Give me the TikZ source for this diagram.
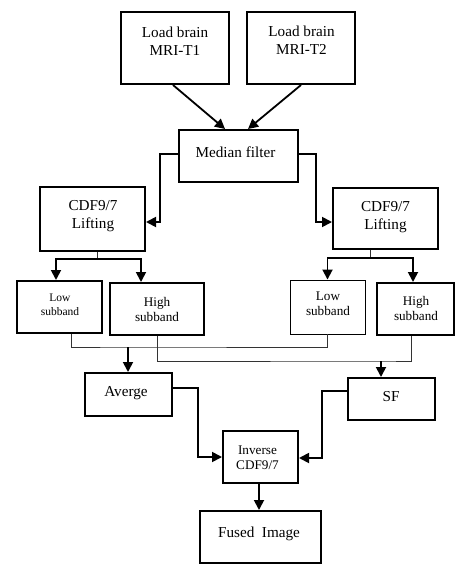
\documentclass[tikz,border=0pt]{standalone}
\usepackage{fontspec}
\setmainfont{Liberation Serif}
\usetikzlibrary{arrows.meta,calc}
\begin{document}
\begin{tikzpicture}[x=1pt,y=-1pt,
  box/.style={draw,line width=2pt,inner sep=0pt},
  thinbox/.style={draw,line width=0.9pt,inner sep=0pt},
  txt/.style={align=center,inner sep=0pt,font=\fontsize{15.2}{18}\selectfont},
  mtxt/.style={align=center,inner sep=0pt,font=\fontsize{13.2}{15}\selectfont},
  stxt/.style={align=center,inner sep=0pt,font=\fontsize{11.5}{14}\selectfont},
  arr/.style={line width=1.8pt,-{Triangle[length=10pt,width=10pt]}},
  conn/.style={line width=0.8pt,draw=black!80}]
\useasboundingbox (0,0) rectangle (461,572);
% boxes
\node[box,minimum width=108,minimum height=72] (t1) at (175,48) {};
\node[box,minimum width=108,minimum height=72] (t2) at (301,48) {};
\node[box,minimum width=119,minimum height=52] (med) at (238.5,156) {};
\node[box,minimum width=105,minimum height=64] (cdfL) at (92.5,219) {};
\node[box,minimum width=105,minimum height=61] (cdfR) at (385.5,218.5) {};
\node[box,minimum width=85,minimum height=52] (lowL) at (59.5,307) {};
\node[box,minimum width=94,minimum height=52] (highL) at (157,309) {};
\node[thinbox,minimum width=75,minimum height=54] (lowR) at (327.5,307) {};
\node[box,minimum width=77,minimum height=52] (highR) at (415.5,309) {};
\node[box,minimum width=87,minimum height=43] (avg) at (128.5,394.5) {};
\node[box,minimum width=87,minimum height=42] (sf) at (391.5,399) {};
\node[box,minimum width=75,minimum height=52] (inv) at (260.5,457) {};
\node[box,minimum width=121,minimum height=52] (fused) at (260.5,537) {};
% texts
\node[txt] (t1t) at (175,41) {Load brain\\MRI-T1};
\node[txt] (t2t) at (301.5,40.5) {Load brain\\MRI-T2};
\node[txt] (medt) at (235.5,152) {Median filter};
\node[txt] (cdfLt) at (93,216) {CDF9/7\\Lifting};
\node[txt] (cdfRt) at (385.5,217.5) {CDF9/7\\Lifting};
\node[stxt] (lowLt) at (60,305) {Low\\subband};
\node[mtxt] (highLt) at (157,309.5) {High\\subband};
\node[mtxt] (lowRt) at (328,304) {Low\\subband};
\node[mtxt] (highRt) at (416,308) {High\\subband};
\node[txt] (avgt) at (126,393) {Averge};
\node[txt] (sft) at (391,397) {SF};
\node[mtxt] (invt) at (257.5,458) {Inverse\\CDF9/7};
\node[txt] (fusedt) at (259,534) {Fused\ \ Image};
% coordinates
\coordinate (cL) at (160,222);
\coordinate (cR) at (316,222);
\coordinate (sL) at (97,259);
\coordinate (sR) at (370,258);
\coordinate (j1) at (128,347);
\coordinate (j2) at (381,361);
\coordinate (cA) at (198,457);
\coordinate (cS) at (322,458);
% arrows
\draw[arr] ([xshift=-2pt]t1.south) -- ([xshift=-13.5pt]med.north);
\draw[arr] (t2.south) -- ([xshift=9.5pt]med.north);
\draw[arr] ([yshift=2pt]med.west) -| (cL) -- (cL -| cdfL.east);
\draw[arr] ([yshift=2pt]med.east) -| (cR) -- (cR -| cdfR.west);
\draw[conn] (cdfL.south -| sL) -- (sL);
\draw[arr] (sL) -| ([xshift=-3.5pt]lowL.north);
\draw[arr] (sL) -| ([xshift=-16pt]highL.north);
\draw[conn] (cdfR.south -| sR) -- (sR);
\draw[arr] (sR) -| (lowR.north);
\draw[arr] (sR) -| ([xshift=-2.5pt]highR.north);
\draw[conn] ([xshift=11.5pt]lowL.south) |- (j1) -| (lowR.south);
\draw[conn] (highL.south) |- (j2) -| ([xshift=-4.5pt]highR.south);
\draw[arr] (j1) -- (j1 |- avg.north);
\draw[arr] (j2) -- (j2 |- sf.north);
\draw[arr] ([yshift=6.5pt]avg.east) -| (cA) -- (cA -| inv.west);
\draw[arr] ([yshift=8pt]sf.west) -| (cS) -- (cS -| inv.east);
\draw[arr] ([xshift=-1.5pt]inv.south) -- ([xshift=-1.5pt]fused.north);
\end{tikzpicture}
\end{document}
